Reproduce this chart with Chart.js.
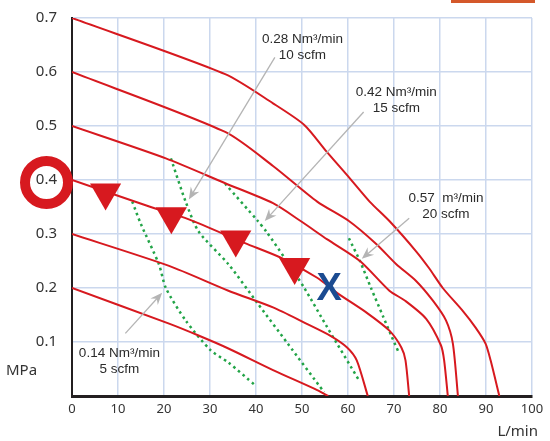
<!DOCTYPE html>
<html>
<head>
<meta charset="utf-8">
<style>
  html, body { margin: 0; padding: 0; background: #fff; }
  #wrap { width: 550px; height: 441px; }
</style>
<script src="https://cdn.jsdelivr.net/npm/chart.js@4/dist/chart.umd.min.js"></script>
</head>
<body>
<div id="wrap"><canvas id="grafico" width="550" height="441"></canvas></div>
<script>
// Curvas de pressao (L/min , MPa)
const flow07 = [0, 33.3, 43.7, 50.5, 55.4, 60.4, 64.7, 69.0, 74.8, 77.6, 80.6, 84.9, 87.7, 89.9, 91.0, 92.9];
const mpa07  = [0.7, 0.596, 0.542, 0.502, 0.452, 0.403, 0.360, 0.324, 0.268, 0.237, 0.200, 0.158, 0.127, 0.097, 0.066, 0];
const flow06 = [0, 33.3, 43.7, 53.3, 60.2, 66.2, 70.5, 74.8, 78.5, 81.3, 82.8, 83.9];
const mpa06  = [0.6, 0.489, 0.426, 0.360, 0.324, 0.281, 0.244, 0.213, 0.176, 0.140, 0.097, 0];
const flow05 = [0, 20.4, 33.3, 43.7, 49.7, 55.5, 62.6, 69.0, 72.5, 77.0, 80.2, 80.9, 81.7];
const mpa05  = [0.5, 0.440, 0.394, 0.357, 0.324, 0.290, 0.250, 0.195, 0.176, 0.143, 0.094, 0.066, 0];
const flow04 = [0, 16.8, 25.4, 37.6, 45.4, 53.3, 57.6, 64.1, 69.0, 71.6, 72.5, 73.3];
const mpa04  = [0.4, 0.351, 0.327, 0.283, 0.256, 0.219, 0.191, 0.154, 0.121, 0.090, 0.066, 0];
const flow03 = [0, 21.1, 34.0, 43.7, 50.5, 56.1, 59.8, 61.9, 64.3];
const mpa03  = [0.3, 0.241, 0.195, 0.164, 0.136, 0.112, 0.090, 0.066, 0];
const flow02 = [0, 21.1, 27.5, 34.0, 43.7, 53.3, 55.7];
const mpa02  = [0.2, 0.134, 0.112, 0.088, 0.048, 0.011, 0];

// Linhas de consumo (verde)
const flow5scfm  = [13.1, 15.0, 18.9, 20.4, 24.7, 30.1, 34.0, 39.8];
const mpa5scfm   = [0.360, 0.318, 0.244, 0.200, 0.140, 0.085, 0.062, 0.020];
const flow10scfm = [21.5, 24.7, 27.5, 34.0, 40.4, 46.9, 54.8];
const mpa10scfm  = [0.440, 0.360, 0.305, 0.244, 0.171, 0.097, 0.007];
const flow15scfm = [33.3, 40.4, 42.2, 46.2, 50.5, 55.5, 62.4];
const mpa15scfm  = [0.393, 0.324, 0.305, 0.256, 0.200, 0.127, 0.029];
const flow20scfm = [60.2, 62.6, 65.0, 67.7, 69.5, 71.0];
const mpa20scfm  = [0.292, 0.250, 0.200, 0.146, 0.110, 0.081];

// Marcadores
const markFlow = [7.3, 21.6, 35.6, 48.4];
const markMpa  = [0.377, 0.333, 0.290, 0.239];
const crossFlow = 55.9;
const crossMpa  = 0.199;
const circledTick = 0.4;

// Notas com setas
const noteLine1 = ["0.28 Nm\u00b3/min", "0.42 Nm\u00b3/min", "0.57  m\u00b3/min", "0.14 Nm\u00b3/min"];
const noteLine2 = ["10 scfm", "15 scfm", "20 scfm", "5 scfm"];
const noteFlow  = [50.1, 70.5, 81.3, 10.3];
const noteMpa   = [0.660, 0.5625, 0.366, 0.079];
const tailFlow  = [44.1, 63.4, 73.3, 11.6];
const tailMpa   = [0.627, 0.526, 0.329, 0.116];
const headFlow  = [25.4, 41.9, 63.0, 19.6];
const headMpa   = [0.364, 0.324, 0.254, 0.191];

const xTicks = [0, 10, 20, 30, 40, 50, 60, 70, 80, 90, 100];
const yTicks = [0, 0.1, 0.2, 0.3, 0.4, 0.5, 0.6, 0.7];

// Cores
const Red = "#d7191f";
const Green = "#22a447";
const GridBlue = "#cbd8ee";

function pts(xs, ys){
  return xs.map((x, i) => ({x: x, y: ys[i]}));
}

function redLine(xs, ys){
  return { data: pts(xs, ys), borderColor: Red, borderWidth: 2, pointRadius: 0, tension: 0.25, fill: false, order: 2 };
}

function greenLine(xs, ys){
  return { data: pts(xs, ys), borderColor: Green, borderWidth: 2.5, borderDash: [2.5, 3.5], pointRadius: 0, tension: 0.25, fill: false, order: 3 };
}

// Desenhos extras (setas, textos, circulo, X)
const extras = {
  id: "extras",
  afterDatasetsDraw(chart){
    const ctx = chart.ctx;
    const sx = chart.scales.x, sy = chart.scales.y;
    ctx.save();

    // setas cinzas
    ctx.strokeStyle = "#b4b4b4";
    ctx.fillStyle = "#b4b4b4";
    ctx.lineWidth = 1.3;
    for (let i = 0; i < tailFlow.length; i++)
    {
      let x1 = sx.getPixelForValue(tailFlow[i]), y1 = sy.getPixelForValue(tailMpa[i]);
      let x2 = sx.getPixelForValue(headFlow[i]), y2 = sy.getPixelForValue(headMpa[i]);
      let a = Math.atan2(y2 - y1, x2 - x1);
      ctx.beginPath();
      ctx.moveTo(x1, y1);
      ctx.lineTo(x2 - Math.cos(a) * 6, y2 - Math.sin(a) * 6);
      ctx.stroke();
      ctx.beginPath();
      ctx.moveTo(x2, y2);
      ctx.lineTo(x2 - Math.cos(a) * 12 + Math.sin(a) * 5, y2 - Math.sin(a) * 12 - Math.cos(a) * 5);
      ctx.lineTo(x2 - Math.cos(a) * 8, y2 - Math.sin(a) * 8);
      ctx.lineTo(x2 - Math.cos(a) * 12 - Math.sin(a) * 5, y2 - Math.sin(a) * 12 + Math.cos(a) * 5);
      ctx.closePath();
      ctx.fill();
    }

    // textos das notas
    ctx.fillStyle = "#2b2b2b";
    ctx.font = "13.5px 'Liberation Sans', Arial, sans-serif";
    ctx.textAlign = "center";
    ctx.textBaseline = "middle";
    for (let i = 0; i < noteLine1.length; i++)
    {
      let x = sx.getPixelForValue(noteFlow[i]), y = sy.getPixelForValue(noteMpa[i]);
      ctx.fillText(noteLine1[i], x, y);
      ctx.fillText(noteLine2[i], x, y + 16);
    }

    // X azul
    ctx.fillStyle = "#1b4b91";
    ctx.font = "bold 38px 'Liberation Sans', Arial, sans-serif";
    ctx.fillText("X", sx.getPixelForValue(crossFlow), sy.getPixelForValue(crossMpa) + 1);

    // circulo no 0.4
    ctx.strokeStyle = Red;
    ctx.lineWidth = 10;
    ctx.beginPath();
    ctx.arc(chart.chartArea.left - 25.5, sy.getPixelForValue(circledTick) + 2.5, 21.5, 0, Math.PI * 2);
    ctx.stroke();

    // titulos dos eixos
    ctx.fillStyle = "#333";
    ctx.font = "15px 'Noto Sans', sans-serif";
    ctx.textAlign = "left";
    ctx.fillText("MPa", 6, 371);
    ctx.textAlign = "right";
    ctx.fillText("L/min", 538, 432);

    // barra laranja no topo
    ctx.fillStyle = "#d4582a";
    ctx.fillRect(451, 0, 84, 3);

    ctx.restore();
  }
};

const data = {
  type: "line",
  data: {
    datasets: [
      { data: pts(markFlow, markMpa), showLine: false, pointStyle: "triangle", pointRotation: 180,
        pointRadius: 18, pointBackgroundColor: Red, pointBorderWidth: 0, order: 1 },
      redLine(flow07, mpa07),
      redLine(flow06, mpa06),
      redLine(flow05, mpa05),
      redLine(flow04, mpa04),
      redLine(flow03, mpa03),
      redLine(flow02, mpa02),
      greenLine(flow5scfm, mpa5scfm),
      greenLine(flow10scfm, mpa10scfm),
      greenLine(flow15scfm, mpa15scfm),
      greenLine(flow20scfm, mpa20scfm),
    ],
  },
  options: {
    responsive: false,
    animation: false,
    layout: { padding: { top: 12, right: 13, left: 0, bottom: 0 } },
    plugins: { legend: { display: false }, tooltip: { enabled: false } },
    scales: {
      x: {
        type: "linear",
        min: 0, max: 100,
        afterBuildTicks: s => { s.ticks = xTicks.map(v => ({value: v})); },
        afterFit: s => { s.height = 45; s.paddingLeft = 0; s.paddingRight = 0; },
        grid: { color: GridBlue, lineWidth: 1.5, drawTicks: false },
        border: { color: "#231f20", width: 3 },
        ticks: { color: "#333", padding: 5, maxRotation: 0, font: { size: 13, family: "'Noto Sans', sans-serif" } },
      },
      y: {
        type: "linear",
        min: 0, max: 0.7,
        afterBuildTicks: s => { s.ticks = yTicks.map(v => ({value: v})); },
        afterFit: s => { s.width = 72; s.paddingTop = 0; s.paddingBottom = 0; },
        grid: { color: GridBlue, lineWidth: 1.5, drawTicks: false },
        border: { color: "#231f20", width: 2 },
        ticks: {
          color: "#333", padding: 15,
          font: { size: 15, family: "'Noto Sans', sans-serif" },
          callback: v => v === 0 ? "" : v.toFixed(1),
        },
      },
    },
  },
  plugins: [extras],
};

const MyChart = new Chart("grafico", data);
</script>
</body>
</html>
